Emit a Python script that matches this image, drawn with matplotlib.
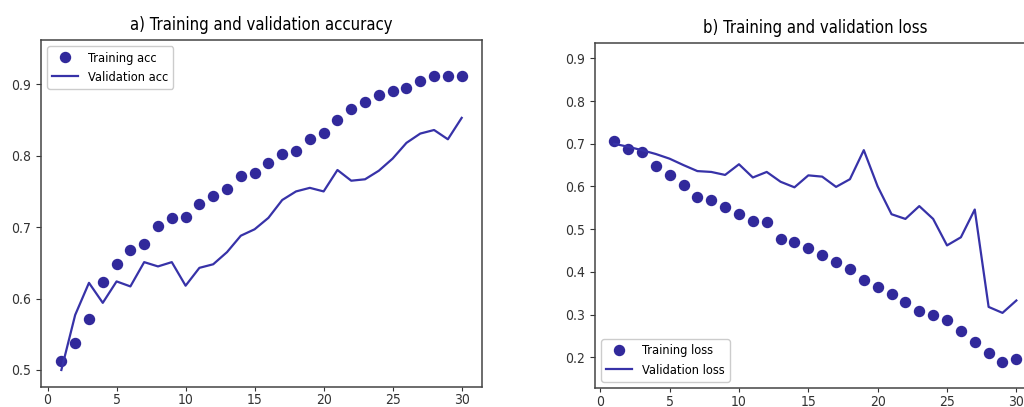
import matplotlib
matplotlib.use("Agg")
import matplotlib.pyplot as plt

epochs = list(range(1, 31))

train_acc = [0.513, 0.538, 0.571, 0.623, 0.648, 0.668, 0.677, 0.701, 0.713, 0.714,
             0.733, 0.744, 0.753, 0.771, 0.776, 0.790, 0.802, 0.807, 0.823, 0.832,
             0.850, 0.865, 0.875, 0.885, 0.891, 0.895, 0.904, 0.911, 0.911, 0.911]
val_acc = [0.500, 0.577, 0.622, 0.594, 0.624, 0.617, 0.651, 0.645, 0.651, 0.618,
           0.643, 0.648, 0.665, 0.688, 0.697, 0.713, 0.738, 0.750, 0.755, 0.750,
           0.780, 0.765, 0.767, 0.779, 0.796, 0.818, 0.831, 0.836, 0.823, 0.853]

train_loss = [0.706, 0.688, 0.680, 0.649, 0.627, 0.603, 0.576, 0.568, 0.552, 0.535,
              0.520, 0.516, 0.476, 0.469, 0.456, 0.440, 0.423, 0.406, 0.381, 0.365,
              0.348, 0.330, 0.308, 0.300, 0.287, 0.262, 0.236, 0.211, 0.188, 0.195]
val_loss = [0.700, 0.693, 0.685, 0.676, 0.665, 0.650, 0.636, 0.634, 0.627, 0.652,
            0.621, 0.634, 0.611, 0.598, 0.626, 0.623, 0.599, 0.617, 0.685, 0.600,
            0.535, 0.524, 0.554, 0.524, 0.462, 0.481, 0.546, 0.318, 0.304, 0.333]

titles = ["a) Training and validation accuracy", "b) Training and validation loss"]
labels_acc = ["Training acc", "Validation acc"]
labels_loss = ["Training loss", "Validation loss"]
acc_ticks = [0.5, 0.6, 0.7, 0.8, 0.9]
loss_ticks = [0.2, 0.3, 0.4, 0.5, 0.6, 0.7, 0.8, 0.9]
x_ticks = [0, 5, 10, 15, 20, 25, 30]

dot_color = "#31299b"
line_color = "#3732a8"

plt.rcParams["font.family"] = ["DejaVu Sans"]
plt.rcParams["font.stretch"] = "condensed"

fig = plt.figure(figsize=(10.24, 4.07), dpi=100)
ax1 = fig.add_axes([0.0397, 0.0499, 0.4307, 0.8518])
ax2 = fig.add_axes([0.5808, 0.0459, 0.4307, 0.8491])

ax1.plot(epochs, train_acc, "o", color=dot_color, markersize=7.2, label=labels_acc[0])
ax1.plot(epochs, val_acc, "-", color=line_color, linewidth=1.6, label=labels_acc[1])
ax1.set_xlim(-0.5, 31.45)
ax1.set_ylim(0.4766, 0.962)
ax1.set_yticks(acc_ticks)
ax1.set_xticks(x_ticks)
ax1.set_title(titles[0], fontsize=12, pad=7)
ax1.legend(loc="upper left", fontsize=9.2, framealpha=1)

ax2.plot(epochs, train_loss, "o", color=dot_color, markersize=7.2, label=labels_loss[0])
ax2.plot(epochs, val_loss, "-", color=line_color, linewidth=1.6, label=labels_loss[1])
ax2.set_xlim(-0.4, 31.4)
ax2.set_ylim(0.1274, 0.9365)
ax2.set_yticks(loss_ticks)
ax2.set_xticks(x_ticks)
ax2.set_title(titles[1], fontsize=12, pad=7)
ax2.legend(loc="lower left", fontsize=9.2, framealpha=1)

for ax in (ax1, ax2):
    for s in ax.spines.values():
        s.set_color("#444444")
        s.set_linewidth(1.1)
    ax.tick_params(labelsize=10, colors="#333333")
    ax.tick_params(axis="x", pad=1.5, length=3)
    ax.yaxis.set_major_formatter(matplotlib.ticker.FormatStrFormatter("%.1f"))

fig.savefig("out.png", dpi=100)
